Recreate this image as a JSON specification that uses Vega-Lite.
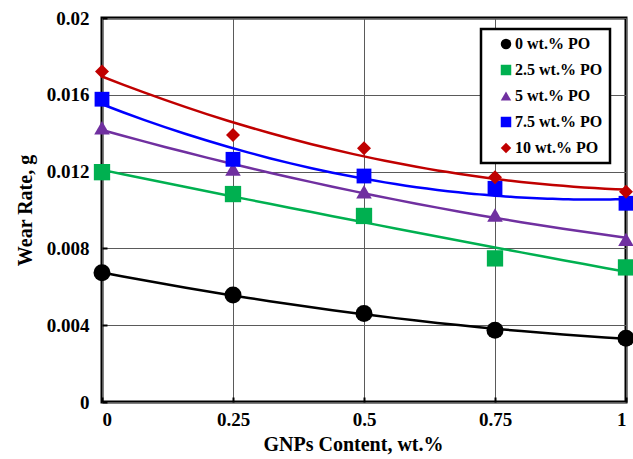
{
  "$schema": "https://vega.github.io/schema/vega-lite/v6.json",
  "autosize": {"type": "none"},
  "padding": {"left": 102, "top": 18, "right": 7, "bottom": 57},
  "width": 524,
  "height": 384,
  "background": "white",
  "config": {
    "view": {"stroke": "#000000", "strokeWidth": 3},
    "font": "Liberation Serif",
    "legend": {"strokeWidth": 2.5},
    "axis": {
      "labelFont": "Liberation Serif",
      "labelFontWeight": "bold",
      "labelFontSize": 19,
      "labelColor": "#000000",
      "titleFont": "Liberation Serif",
      "titleFontWeight": "bold",
      "titleFontSize": 20,
      "titleColor": "#000000",
      "domain": false,
      "gridColor": "#5a5a5a",
      "gridWidth": 1,
      "gridOpacity": 1,
      "ticks": true,
      "tickSize": -5,
      "tickWidth": 2,
      "tickColor": "#000000"
    }
  },
  "data": {
    "values": [
      {"series": "0 wt.% PO", "x": 0, "y": 0.00673},
      {"series": "0 wt.% PO", "x": 0.25, "y": 0.00557},
      {"series": "0 wt.% PO", "x": 0.5, "y": 0.00461},
      {"series": "0 wt.% PO", "x": 0.75, "y": 0.00374},
      {"series": "0 wt.% PO", "x": 1, "y": 0.00332},
      {"series": "2.5 wt.% PO", "x": 0, "y": 0.01197},
      {"series": "2.5 wt.% PO", "x": 0.25, "y": 0.01083},
      {"series": "2.5 wt.% PO", "x": 0.5, "y": 0.00969},
      {"series": "2.5 wt.% PO", "x": 0.75, "y": 0.00748},
      {"series": "2.5 wt.% PO", "x": 1, "y": 0.00701},
      {"series": "5 wt.% PO", "x": 0, "y": 0.01428},
      {"series": "5 wt.% PO", "x": 0.25, "y": 0.01214},
      {"series": "5 wt.% PO", "x": 0.5, "y": 0.01095},
      {"series": "5 wt.% PO", "x": 0.75, "y": 0.00974},
      {"series": "5 wt.% PO", "x": 1, "y": 0.00847},
      {"series": "7.5 wt.% PO", "x": 0, "y": 0.01577},
      {"series": "7.5 wt.% PO", "x": 0.25, "y": 0.01264},
      {"series": "7.5 wt.% PO", "x": 0.5, "y": 0.01177},
      {"series": "7.5 wt.% PO", "x": 0.75, "y": 0.01113},
      {"series": "7.5 wt.% PO", "x": 1, "y": 0.01035},
      {"series": "10 wt.% PO", "x": 0, "y": 0.01721},
      {"series": "10 wt.% PO", "x": 0.25, "y": 0.01391},
      {"series": "10 wt.% PO", "x": 0.5, "y": 0.01322},
      {"series": "10 wt.% PO", "x": 0.75, "y": 0.01171},
      {"series": "10 wt.% PO", "x": 1, "y": 0.01095}
    ]
  },
  "layer": [
    {
      "transform": [
        {"regression": "y", "on": "x", "groupby": ["series"], "method": "poly", "order": 2, "extent": [0, 1]}
      ],
      "mark": {"type": "line", "strokeWidth": 2.5},
      "encoding": {
        "x": {"field": "x", "type": "quantitative"},
        "y": {"field": "y", "type": "quantitative"},
        "stroke": {
          "field": "series", "type": "nominal",
          "scale": {
            "domain": ["10 wt.% PO", "7.5 wt.% PO", "5 wt.% PO", "2.5 wt.% PO", "0 wt.% PO"],
            "range": ["#C00000", "#0000FF", "#7030A0", "#00B050", "#000000"]
          },
          "legend": null
        },
        "detail": {"field": "series"}
      }
    },
    {
      "mark": {"type": "point", "filled": true, "opacity": 1},
      "encoding": {
        "x": {
          "field": "x", "type": "quantitative",
          "scale": {"domain": [0, 1], "nice": false, "zero": false},
          "axis": {"values": [0, 0.25, 0.5, 0.75, 1], "format": ".2~f", "labelPadding": 13, "title": "GNPs Content, wt.%", "titlePadding": 5, "titleX": 251}
        },
        "y": {
          "field": "y", "type": "quantitative",
          "scale": {"domain": [0, 0.02], "nice": false},
          "axis": {"values": [0, 0.004, 0.008, 0.012, 0.016, 0.02], "format": ".3~f", "labelPadding": 18, "title": "Wear Rate, g", "titlePadding": 11}
        },
        "color": {
          "field": "series", "type": "nominal",
          "scale": {
            "domain": ["0 wt.% PO", "2.5 wt.% PO", "5 wt.% PO", "7.5 wt.% PO", "10 wt.% PO"],
            "range": ["#000000", "#00B050", "#7030A0", "#0000FF", "#C00000"]
          },
          "legend": {
            "title": null,
            "orient": "none",
            "legendX": 379,
            "legendY": 11,
            "fillColor": "white",
            "strokeColor": "#000000",
            "padding": 7,
            "symbolOffset": 10,
            "rowPadding": 10,
            "symbolSize": 110,
            "symbolStrokeWidth": 0,
            "labelFont": "Liberation Serif",
            "labelFontWeight": "bold",
            "labelFontSize": 16,
            "labelColor": "#000000",
            "labelOffset": 1
          }
        },
        "shape": {
          "field": "series", "type": "nominal",
          "scale": {
            "domain": ["0 wt.% PO", "2.5 wt.% PO", "5 wt.% PO", "7.5 wt.% PO", "10 wt.% PO"],
            "range": ["circle", "square", "triangle-up", "square", "diamond"]
          }
        },
        "size": {
          "field": "series", "type": "nominal",
          "scale": {
            "domain": ["10 wt.% PO", "7.5 wt.% PO", "5 wt.% PO", "2.5 wt.% PO", "0 wt.% PO"],
            "range": [196, 289, 225, 225, 250]
          },
          "legend": null
        }
      }
    }
  ]
}
